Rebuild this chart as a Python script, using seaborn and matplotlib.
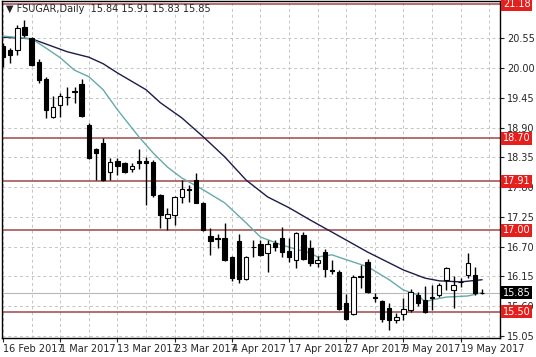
import numpy as np
import pandas as pd
import seaborn as sns
import matplotlib.pyplot as plt

# daily candles, 16 Feb 2017 .. 24 May 2017
opens  = [20.41, 20.33, 20.33, 20.76, 20.56, 20.11, 19.80, 19.10, 19.32, 19.46,
          19.57, 19.71, 18.95, 18.50, 18.62, 18.08, 18.28, 18.25, 18.14, 18.28,
          18.28, 18.27, 17.66, 17.23, 17.29, 17.62, 17.76, 17.93, 17.51, 16.90,
          16.85, 16.86, 16.51, 16.81, 16.10, 16.69, 16.75, 16.58, 16.77, 16.86,
          16.62, 16.45, 16.92, 16.68, 16.40, 16.60, 16.26, 16.23, 15.66, 15.46,
          16.14, 16.42, 15.76, 15.70, 15.57, 15.35, 15.46, 15.53, 15.81, 15.72,
          15.75, 15.81, 16.09, 15.90, 16.04, 16.18, 16.18, 15.84]
highs  = [20.46, 20.37, 20.80, 20.89, 20.57, 20.17, 19.83, 19.48, 19.54, 19.65,
          19.65, 19.80, 18.99, 18.52, 18.71, 18.34, 18.34, 18.27, 18.25, 18.50,
          18.36, 18.30, 17.67, 17.42, 17.64, 17.93, 17.84, 18.06, 17.52, 17.05,
          16.93, 17.14, 16.52, 16.94, 16.53, 16.82, 16.82, 16.82, 16.82, 17.06,
          16.86, 16.97, 16.97, 16.82, 16.53, 16.66, 16.45, 16.27, 15.83, 16.18,
          16.36, 16.47, 15.85, 15.72, 15.66, 15.48, 15.75, 15.92, 15.86, 15.97,
          15.99, 16.03, 16.33, 16.16, 16.12, 16.58, 16.33, 15.91]
lows   = [20.02, 20.09, 20.24, 20.57, 20.04, 19.72, 19.08, 19.08, 19.10, 19.32,
          19.36, 19.10, 18.32, 17.93, 17.91, 17.93, 18.02, 18.06, 18.08, 18.13,
          17.47, 17.62, 17.05, 17.01, 17.10, 17.51, 17.53, 17.50, 16.99, 16.55,
          16.68, 16.44, 16.07, 16.03, 16.08, 16.51, 16.53, 16.23, 16.62, 16.51,
          16.42, 16.31, 16.45, 16.34, 16.33, 16.14, 16.20, 15.53, 15.35, 15.44,
          15.94, 15.85, 15.68, 15.31, 15.16, 15.29, 15.35, 15.49, 15.61, 15.48,
          15.53, 15.77, 15.90, 15.57, 15.95, 16.12, 15.81, 15.83]
closes = [20.20, 20.24, 20.74, 20.61, 20.06, 19.78, 19.23, 19.28, 19.48, 19.47,
          19.55, 19.11, 18.34, 18.43, 17.93, 18.27, 18.19, 18.08, 18.19, 18.25,
          18.25, 17.66, 17.29, 17.30, 17.62, 17.77, 17.75, 17.51, 17.01, 16.81,
          16.84, 16.45, 16.12, 16.10, 16.51, 16.70, 16.55, 16.75, 16.69, 16.60,
          16.51, 16.95, 16.47, 16.40, 16.45, 16.29, 16.25, 15.55, 15.37, 16.14,
          16.15, 15.86, 15.75, 15.37, 15.35, 15.41, 15.55, 15.86, 15.66, 15.49,
          15.76, 15.99, 16.31, 15.99, 16.05, 16.40, 15.85, 15.85]

date_labels = ['16 Feb 2017', '1 Mar 2017', '13 Mar 2017', '23 Mar 2017', '4 Apr 2017',
               '17 Apr 2017', '27 Apr 2017', '9 May 2017', '19 May 2017']

# moving averages read at selected bars
ma_slow_bar = [0, 4, 9, 12, 14, 16, 20, 22, 25, 28, 31, 34, 37, 40, 43, 46, 51, 56, 59, 61, 64, 67]
ma_slow     = [20.57, 20.54, 20.30, 20.20, 20.08, 19.91, 19.60, 19.36, 19.08, 18.73, 18.36,
               17.93, 17.62, 17.42, 17.19, 16.97, 16.60, 16.27, 16.12, 16.07, 16.05, 16.09]
ma_fast_bar = [0, 4, 6, 8, 10, 12, 14, 16, 19, 21, 23, 25, 28, 31, 34, 36, 39, 43, 44, 46,
               48, 51, 54, 56, 58, 59, 60, 62, 65, 67]
ma_fast     = [20.59, 20.54, 20.37, 20.19, 19.96, 19.84, 19.60, 19.23, 18.73, 18.43, 18.17,
               17.97, 17.75, 17.51, 17.14, 16.88, 16.73, 16.58, 16.51, 16.55, 16.46, 16.33,
               16.09, 15.90, 15.81, 15.68, 15.72, 15.77, 15.79, 15.85]

levels = [21.18, 18.70, 17.91, 17.00, 15.50]
last_price = 15.85
price_ticks = [20.55, 20.00, 19.45, 18.90, 18.35, 17.80, 17.25, 16.70, 16.15, 15.60, 15.05]

df = pd.DataFrame({'open': opens, 'high': highs, 'low': lows, 'close': closes})
df['bar'] = np.arange(len(df))
up = df['close'] >= df['open']

sns.set_style('white')
plt.rcParams['font.family'] = ['DejaVu Sans']

fig = plt.figure(figsize=(5.36, 3.57), dpi=100)
ax = fig.add_axes([2 / 536, 19 / 357, 498 / 536, 337 / 357])

ax.set_xlim(-0.14, 69.5)
ax.set_ylim(15.014, 21.238)

# grid
ax.set_yticks(price_ticks)
ax.set_yticklabels([f'{p:.2f}' for p in price_ticks])
ax.set_xticks(np.arange(0, 65, 8))
ax.set_xticklabels(date_labels, ha='left')
ax.set_xticks(np.arange(0, 69, 4), minor=True)
ax.grid(True, which='both', ls=(0, (3, 3)), color='#c4c4c4', lw=0.7)
ax.set_axisbelow(True)

# levels
for lv in levels:
    ax.axhline(lv, color='#a04848', lw=1.1, zorder=2)
ax.axhline(last_price, color='#b8b8b8', lw=0.8, zorder=2)

# moving averages
sns.lineplot(x=ma_slow_bar, y=ma_slow, ax=ax, color='#1c1c4c', lw=1.0, zorder=3)
sns.lineplot(x=ma_fast_bar, y=ma_fast, ax=ax, color='#66aaaa', lw=1.0, zorder=3)

# candles
ax.vlines(df['bar'], df['low'], df['high'], color='black', lw=1.0, zorder=4)
body_lo = np.minimum(df['open'], df['close'])
body_h = np.maximum((df['close'] - df['open']).abs(), 0.012)
ax.bar(df['bar'], body_h, bottom=body_lo, width=0.62,
       color=np.where(up, 'white', 'black'), edgecolor='black', lw=0.8, zorder=5)

# axes look
for s in ax.spines.values():
    s.set_color('black')
    s.set_linewidth(1.0)
ax.yaxis.tick_right()
ax.tick_params(axis='y', which='major', direction='out', length=3, width=0.8,
               labelsize=7, pad=2, right=True, left=False)
ax.tick_params(axis='x', which='major', direction='out', length=3, width=0.8,
               labelsize=7, pad=1, bottom=True)
ax.tick_params(axis='x', which='minor', length=0)
ax.set_xlabel('')
ax.set_ylabel('')

# level tags on the price scale
tr = ax.get_yaxis_transform()
for lv in levels:
    ax.text(1.006, lv, f'{lv:.2f}', transform=tr, fontsize=7, color='white',
            va='center', ha='left', clip_on=False, zorder=10,
            bbox=dict(facecolor='#e5201c', edgecolor='none', pad=1.2))
ax.text(1.006, last_price, f'{last_price:.2f}', transform=tr, fontsize=7, color='white',
        va='center', ha='left', clip_on=False, zorder=10,
        bbox=dict(facecolor='black', edgecolor='none', pad=1.2))

ax.text(0.008, 0.99, '▼ FSUGAR,Daily  15.84 15.91 15.83 15.85', transform=ax.transAxes,
        fontsize=7, va='top', ha='left', zorder=10)

fig.savefig('out.png', dpi=100)
